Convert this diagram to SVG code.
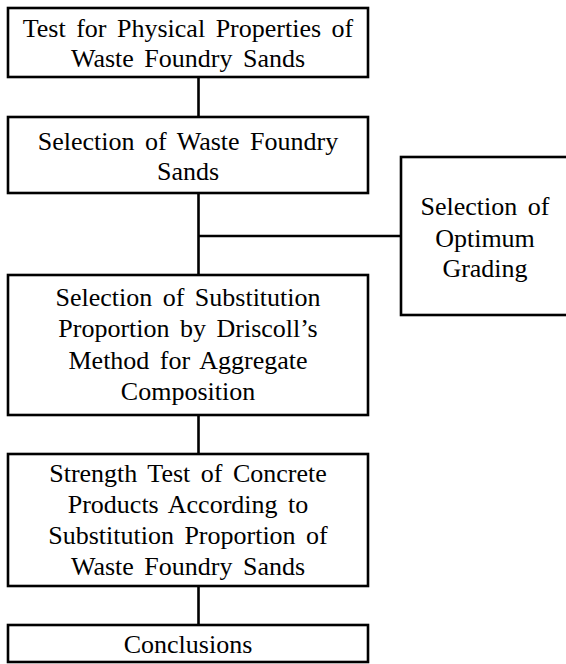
<svg xmlns="http://www.w3.org/2000/svg" width="566" height="664" viewBox="0 0 566 664">
<style>
rect{fill:#fff;stroke:#000;stroke-width:2.6}
line{stroke:#000;stroke-width:2.6}
text{font-family:"Liberation Serif","Times New Roman",serif;font-size:26px;fill:#000;text-anchor:middle;word-spacing:4px}
</style>
<rect width="566" height="664" fill="#fff" style="stroke:none"/>
<g id="connectors">
<line x1="198.5" y1="77" x2="198.5" y2="117"/>
<line x1="198.5" y1="193" x2="198.5" y2="275"/>
<line x1="198.5" y1="236" x2="401" y2="236"/>
<line x1="198.5" y1="415" x2="198.5" y2="454"/>
<line x1="198.5" y1="586" x2="198.5" y2="625"/>
</g>
<g id="n1">
<rect x="8" y="8" width="360" height="69"/>
<text x="188" y="37">Test for Physical Properties of</text>
<text x="188" y="67">Waste Foundry Sands</text>
</g>
<g id="n2">
<rect x="8" y="117" width="360" height="76"/>
<text x="188" y="150">Selection of Waste Foundry</text>
<text x="188" y="180">Sands</text>
</g>
<g id="n3">
<rect x="8" y="275" width="360" height="140"/>
<text x="188" y="306">Selection of Substitution</text>
<text x="188" y="337">Proportion by Driscoll’s</text>
<text x="188" y="369">Method for Aggregate</text>
<text x="188" y="400">Composition</text>
</g>
<g id="n4">
<rect x="8" y="454" width="360" height="132"/>
<text x="188" y="482">Strength Test of Concrete</text>
<text x="188" y="513">Products According to</text>
<text x="188" y="544">Substitution Proportion of</text>
<text x="188" y="575">Waste Foundry Sands</text>
</g>
<g id="n5">
<rect x="8" y="625" width="360" height="37"/>
<text x="188" y="653">Conclusions</text>
</g>
<g id="n6">
<rect x="401" y="157" width="175" height="158"/>
<text x="485" y="215">Selection of</text>
<text x="485" y="247">Optimum</text>
<text x="485" y="277">Grading</text>
</g>
</svg>
